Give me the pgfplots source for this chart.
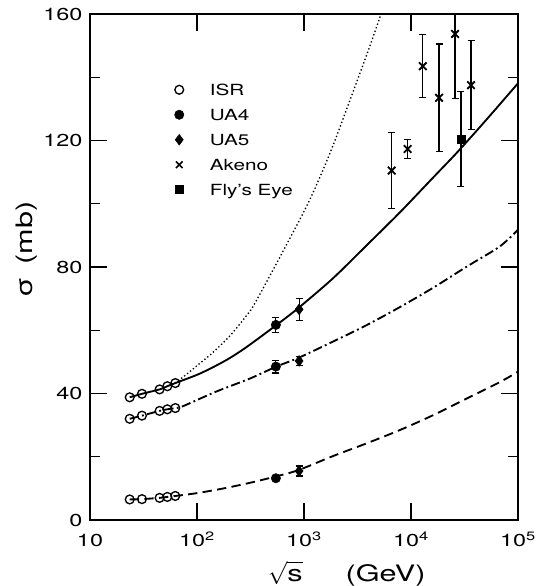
\documentclass[border=0pt]{standalone}
\usepackage{fontspec}
\setmainfont{TeX Gyre Heros}[FakeStretch=1.35]
\usepackage{pgfplots}
\pgfplotsset{compat=1.18}
\usetikzlibrary{calc}

\newcommand{\tickfont}{\fontsize{13}{15}\selectfont}
\newcommand{\labfont}{\fontsize{17}{20}\selectfont}
\newcommand{\legfont}{\fontsize{11.5}{13}\selectfont}

\begin{document}
\begin{tikzpicture}
\begin{axis}[
  name=ax,
  scale only axis, width=321pt, height=379.5pt,
  xmode=log, xmin=10, xmax=1e5, ymin=0, ymax=160,
  xtick={10,100,1000,10000,100000},
  xticklabels={10,10\textsuperscript{2},10\textsuperscript{3},10\textsuperscript{4},10\textsuperscript{5}},
  xminorticks=false,
  ytick={0,40,80,120,160}, minor ytick={20,60,100,140},
  yticklabels={0,40,80,120,160},
  tick align=inside, xtick pos=both, ytick pos=both,
  xticklabel pos=lower, yticklabel pos=left,
  major tick length=12.75pt, minor tick length=7.5pt,
  every tick/.style={black, line width=1.1pt},
  axis line style={line width=1.5pt},
  tick label style={font=\tickfont},
  xticklabel style={anchor=base, yshift=-20pt},
  yticklabel style={xshift=-2.2pt},
  xlabel={$\sqrt{\mbox{s}\vphantom{b}}$\hspace{1.9em}(GeV)},
  ylabel={σ\hspace{0.6em}(mb)},
  label style={font=\labfont},
  xlabel style={at={(axis description cs:0.405,-0.1225)}, anchor=base west},
  ylabel style={at={(axis description cs:-0.147,0.534)}, anchor=center},
  legend style={at={(axis description cs:0.197,0.862)}, anchor=north west,
    draw=none, fill=none, inner sep=0pt, font=\legfont, row sep=10.25pt,
    column sep=19.5pt, nodes={inner sep=0pt, text height=8.5pt, text depth=0pt}},
  legend cell align=left,
  legend image code/.code={\draw[#1] plot coordinates {(0pt,0pt)};},
]
% curves
\addplot[forget plot, black, line width=1pt, dash pattern=on 1pt off 1.8pt, smooth] coordinates {
  (62.7,43.3) (79.4,46.0) (100,48.8) (141,53.0) (204,58.3) (288,64.5) (347,68.5)
  (646,85.4) (1122,101) (1778,116.6) (2692,132.8) (3981,148.4) (5248,160) (6310,168)
};
\addplot[forget plot, black, line width=1.4pt, smooth] coordinates {
  (23.5,38.8) (30.6,39.9) (44.7,41.3) (52.8,42.3) (62.7,43.3) (100,45.9) (141,48.3)
  (200,51.1) (288,54.6) (550,61.6) (891,67.1) (1862,76.4) (3890,87.0) (7943,97.4)
  (16218,108.4) (26915,116.2) (50119,126.4) (100000,138.1)
};
\addplot[forget plot, black, line width=1.4pt, dash pattern=on 7pt off 2.5pt on 1.4pt off 2.5pt, smooth] coordinates {
  (23.5,32.0) (30.6,33.0) (44.7,34.5) (52.8,35.0) (62.7,35.4) (74.1,36.0) (151,40.6)
  (316,44.8) (550,48.5) (891,51.3) (1862,56.4) (3890,61.7) (7943,67.4) (16218,73.5)
  (33113,80.1) (67608,86.5) (100000,91.8)
};
\addplot[forget plot, black, line width=1.4pt, dash pattern=on 7pt off 4pt, smooth] coordinates {
  (23.5,6.5) (30.6,6.6) (44.7,7.0) (52.8,7.3) (62.7,7.6) (100,8.5) (178,10.0)
  (316,11.8) (550,13.8) (891,15.8) (1862,20.2) (3890,24.3) (7943,28.5) (16218,33.2)
  (33113,38.4) (67608,43.6) (100000,46.9)
};
% ISR
\addplot[forget plot, only marks, mark=o, mark size=3.3pt, line width=1pt, black, mark options={fill=white}] coordinates {
  (23.5,38.8) (30.6,39.9) (44.7,41.3) (52.8,42.3) (62.7,43.3)
  (23.5,32.0) (30.6,33.0) (44.7,34.5) (52.8,35.0) (62.7,35.4)
  (23.5,6.5) (30.6,6.6) (44.7,7.0) (52.8,7.3) (62.7,7.6)
};
% UA4
\addplot[forget plot, only marks, mark=*, mark size=3.5pt, black,
  error bars/.cd, y dir=both, y explicit,
  error bar style={line width=0.9pt}, error mark options={rotate=90, mark size=2.6pt, line width=0.9pt}]
  coordinates {(546,61.7) +- (0,2.4) (546,48.5) +- (0,2.0) (546,13.2) +- (0,0.5)};
% UA5
\addplot[forget plot, only marks, mark=diamond*, mark size=4pt, black,
  error bars/.cd, y dir=both, y explicit,
  error bar style={line width=0.9pt}, error mark options={rotate=90, mark size=2.6pt, line width=0.9pt}]
  coordinates {(900,66.6) +- (0,3.5) (900,50.3) +- (0,1.5) (900,15.5) +- (0,1.6)};
% Akeno
\addplot[forget plot, only marks, mark=x, mark size=4pt, black, line width=1.4pt,
  error bars/.cd, y dir=both, y explicit,
  error bar style={line width=0.9pt}, error mark options={rotate=90, mark size=2.6pt, line width=0.9pt}]
  coordinates {(6600,110.5) +- (0,12) (9300,117.3) +- (0,3.1) (12900,143.5) +- (0,10)
    (18300,133.5) +- (0,17) (25800,153.7) +- (0,20.4) (36400,137.5) +- (0,14)};
% Fly's Eye
\addplot[forget plot, only marks, mark=square*, mark size=3pt, black,
  error bars/.cd, y dir=both, y explicit,
  error bar style={line width=0.9pt}, error mark options={rotate=90, mark size=2.6pt, line width=0.9pt}]
  coordinates {(29300,120.5) +- (0,15)};
% legend
\addlegendimage{mark=o, mark size=3.3pt, line width=1pt, black}
\addlegendentry{ISR}
\addlegendimage{mark=*, mark size=3.5pt, black}
\addlegendentry{UA4}
\addlegendimage{mark=diamond*, mark size=4pt, black}
\addlegendentry{UA5}
\addlegendimage{mark=x, mark size=3.5pt, line width=1.3pt, black}
\addlegendentry{Akeno}
\addlegendimage{mark=square*, mark size=3pt, black}
\addlegendentry{Fly's Eye}
\end{axis}
\pgfresetboundingbox
\path ($(ax.south west)+(-67.5pt,-49.5pt)$) rectangle ($(ax.north east)+(14.25pt,10.5pt)$);
\end{tikzpicture}
\end{document}
